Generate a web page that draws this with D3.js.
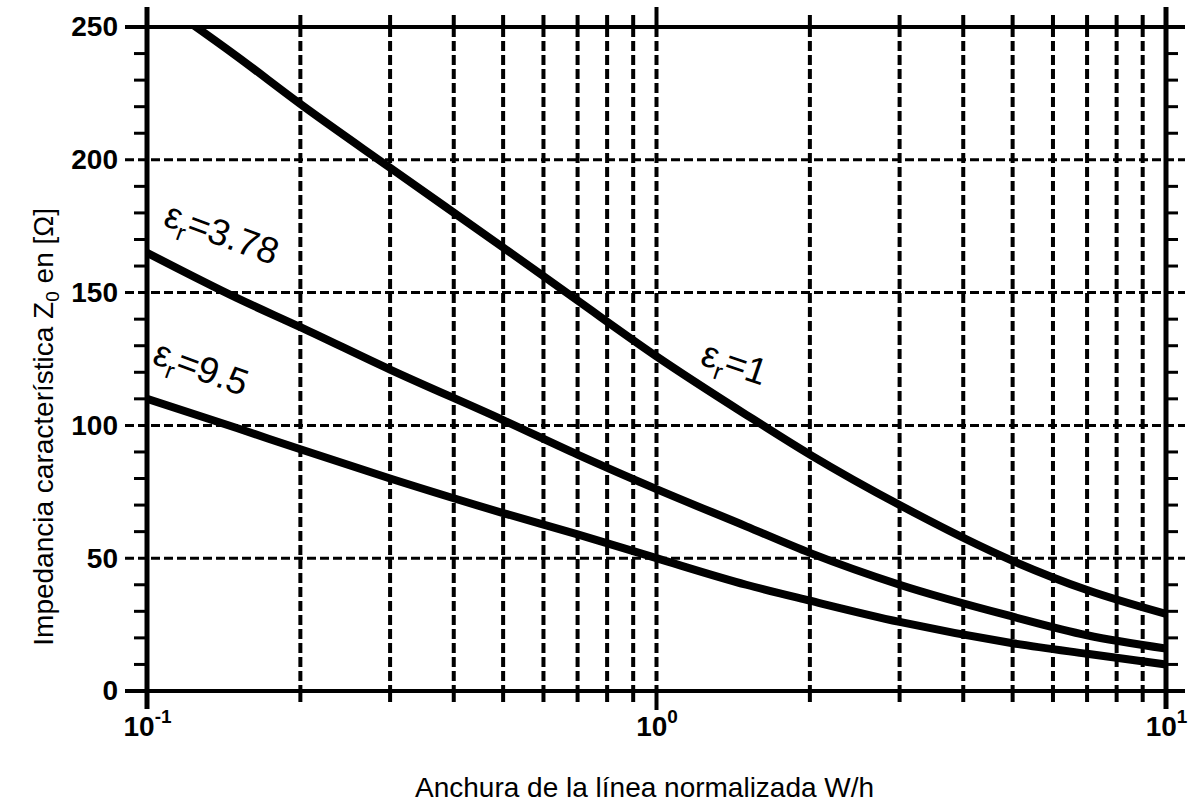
<!DOCTYPE html>
<html>
<head>
<meta charset="utf-8">
<script src="https://cdn.jsdelivr.net/npm/d3@7"></script>
<style>
  body { margin: 0; background: #fff; }
  svg { display: block; font-family: "Liberation Sans", Arial, Helvetica, sans-serif; }
</style>
</head>
<body>
<svg id="chart" width="1200" height="809"></svg>
<script>
// normalized width W/h (log axis) and Z0 for each permittivity
var wh     = [0.1, 0.15, 0.2, 0.3, 0.5, 0.7, 1, 1.5, 2, 3, 5, 7, 10];
var zEr1   = [263, 239, 221, 197, 167, 147, 126, 104, 89, 70, 49, 38, 29];
var zEr378 = [165, 148, 137, 121, 102, 89, 76, 62, 52, 40, 28, 21, 16];
var zEr95  = [110, 99, 91, 80, 67, 59, 50, 40, 34, 26, 18, 14, 10];

var curveNames = ["1", "3.78", "9.5"];
var xMajor = [0.1, 1, 10];
var xMinor = [0.2, 0.3, 0.4, 0.5, 0.6, 0.7, 0.8, 0.9, 2, 3, 4, 5, 6, 7, 8, 9];
var yMajor = [0, 50, 100, 150, 200, 250];
var yMinor = d3.range(10, 250, 10).filter(function(v) { return v % 50 !== 0; });

var svg = d3.select("#chart");
var x = d3.scaleLog().domain([0.1, 10]).range([147, 1166]);
var y = d3.scaleLinear().domain([0, 250]).range([691, 27]);

// horizontal grid: dashed inside, solid at 0 and 250
svg.append("g").selectAll("line").data(yMajor).enter().append("line")
  .attr("x1", 125).attr("x2", 1185)
  .attr("y1", function(d) { return y(d); }).attr("y2", function(d) { return y(d); })
  .attr("stroke", "#000")
  .attr("stroke-width", function(d) { return (d === 0 || d === 250) ? 4 : 3; })
  .attr("stroke-dasharray", function(d) { return (d === 0 || d === 250) ? null : "9,4"; });

// vertical dashed grid at minors and at 10^0
svg.append("g").selectAll("line").data(xMinor.concat([1])).enter().append("line")
  .attr("x1", function(d) { return x(d); }).attr("x2", function(d) { return x(d); })
  .attr("y1", 27).attr("y2", 691)
  .attr("stroke", "#000").attr("stroke-width", 4).attr("stroke-dasharray", "10,4");

// outward x ticks, top and bottom
var xTicks = svg.append("g");
xTicks.selectAll("line.b").data(xMinor).enter().append("line").attr("class", "b")
  .attr("x1", function(d) { return x(d); }).attr("x2", function(d) { return x(d); })
  .attr("y1", 691).attr("y2", 702).attr("stroke", "#000").attr("stroke-width", 4);
xTicks.selectAll("line.t").data(xMinor).enter().append("line").attr("class", "t")
  .attr("x1", function(d) { return x(d); }).attr("x2", function(d) { return x(d); })
  .attr("y1", 15).attr("y2", 27).attr("stroke", "#000").attr("stroke-width", 4);
// solid stubs for 10^0, top and bottom
xTicks.selectAll("line.m").data([[7, 27], [691, 710]]).enter().append("line").attr("class", "m")
  .attr("x1", x(1)).attr("x2", x(1))
  .attr("y1", function(d) { return d[0]; }).attr("y2", function(d) { return d[1]; })
  .attr("stroke", "#000").attr("stroke-width", 4);

// minor y ticks on both sides
var yTicks = svg.append("g");
yTicks.selectAll("line.l").data(yMinor).enter().append("line").attr("class", "l")
  .attr("x1", 134).attr("x2", 147)
  .attr("y1", function(d) { return y(d); }).attr("y2", function(d) { return y(d); })
  .attr("stroke", "#000").attr("stroke-width", 3);
yTicks.selectAll("line.r").data(yMinor).enter().append("line").attr("class", "r")
  .attr("x1", 1166).attr("x2", 1178)
  .attr("y1", function(d) { return y(d); }).attr("y2", function(d) { return y(d); })
  .attr("stroke", "#000").attr("stroke-width", 3);

// y tick labels via axis
var yAxis = svg.append("g").attr("transform", "translate(147,0)")
  .call(d3.axisLeft(y).tickValues(yMajor).tickSize(22).tickPadding(7).tickFormat(d3.format("d")));
yAxis.select(".domain").remove();
yAxis.selectAll(".tick line").remove();
yAxis.selectAll("text").attr("font-size", 28).attr("font-weight", "bold")
  .attr("font-family", "'Liberation Sans', Arial, sans-serif").attr("fill", "#000");

// x tick labels 10^n
var xAxis = svg.append("g").attr("transform", "translate(0,691)")
  .call(d3.axisBottom(x).tickValues(xMajor).tickSize(0).tickPadding(0));
xAxis.select(".domain").remove();
xAxis.selectAll(".tick text").each(function(d) {
  var t = d3.select(this).text(null).attr("y", 45).attr("dy", null)
    .attr("font-size", 28).attr("font-weight", "bold")
    .attr("font-family", "'Liberation Sans', Arial, sans-serif").attr("fill", "#000");
  t.append("tspan").text("10");
  t.append("tspan").attr("dy", -13).attr("font-size", 19).text(Math.round(Math.log10(d)));
});

// frame verticals
svg.append("g").selectAll("line").data([0.1, 10]).enter().append("line")
  .attr("x1", function(d) { return x(d); }).attr("x2", function(d) { return x(d); })
  .attr("y1", 7).attr("y2", 709).attr("stroke", "#000").attr("stroke-width", 5);

// curves
svg.append("clipPath").attr("id", "plot").append("rect")
  .attr("x", 147).attr("y", 27).attr("width", 1166 - 147).attr("height", 691 - 27);
var line = d3.line().x(function(d) { return x(d[0]); }).y(function(d) { return y(d[1]); })
  .curve(d3.curveMonotoneX);
[zEr1, zEr378, zEr95].forEach(function(zs) {
  svg.append("path").attr("clip-path", "url(#plot)")
    .attr("d", line(wh.map(function(w, i) { return [w, zs[i]]; })))
    .attr("fill", "none").attr("stroke", "#000").attr("stroke-width", 8);
});

// curve labels
var labelPos = [[699, 364, 19], [162, 225, 20], [151, 363, 20]];
curveNames.forEach(function(n, i) {
  var p = labelPos[i];
  var t = svg.append("text").attr("font-size", 37)
    .attr("transform", "translate(" + p[0] + "," + p[1] + ") rotate(" + p[2] + ")");
  t.append("tspan").text("ε");
  t.append("tspan").attr("font-size", 24).attr("dy", 9).text("r");
  t.append("tspan").attr("dy", -9).text("=" + n);
});

// axis titles
var yt = svg.append("text").attr("font-size", 28).attr("text-anchor", "end")
  .attr("transform", "translate(53,208) rotate(-90)");
yt.append("tspan").text("Impedancia característica Z");
yt.append("tspan").attr("font-size", 19).attr("dy", 6).text("0");
yt.append("tspan").attr("dy", -6).text(" en [Ω]");

svg.append("text").attr("font-size", 28).attr("x", 415).attr("y", 797)
  .text("Anchura de la línea normalizada W/h");
</script>
</body>
</html>
